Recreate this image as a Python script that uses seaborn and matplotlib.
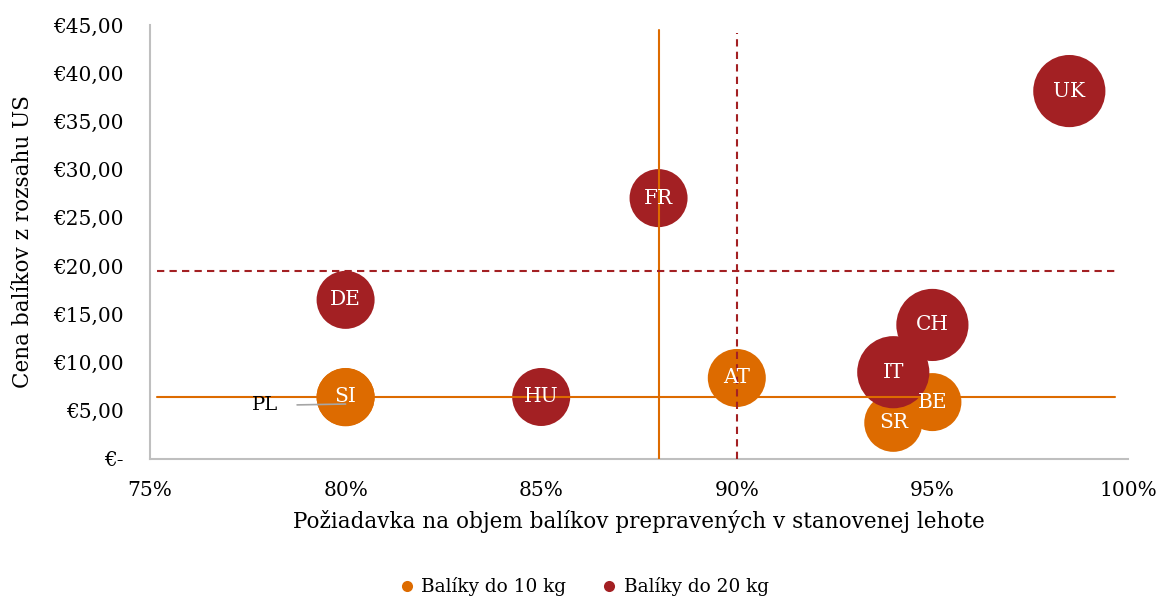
import matplotlib
matplotlib.use("Agg")
import matplotlib.pyplot as plt
from matplotlib.lines import Line2D
from matplotlib.ticker import FuncFormatter
import seaborn as sns
import pandas as pd

# ---- data ----
countries = ["PL", "SI", "AT", "BE", "SR", "DE", "HU", "FR", "IT", "CH", "UK"]
groups = ["Balíky do 10 kg"] * 5 + ["Balíky do 20 kg"] * 6
deadline_share = [0.80, 0.80, 0.90, 0.95, 0.94, 0.80, 0.85, 0.88, 0.94, 0.95, 0.985]
price_eur = [6.4, 6.43, 8.4, 5.9, 3.75, 16.5, 6.43, 27.05, 9.0, 13.9, 38.15]
bubble_size = [2, 2, 2, 2, 2, 2, 2, 2, 3, 3, 3]

ref_x_10kg = 0.88
ref_x_20kg = 0.90
ref_y_10kg = 6.43
ref_y_20kg = 19.5

x_ticks = [0.75, 0.80, 0.85, 0.90, 0.95, 1.00]
y_ticks = [0, 5, 10, 15, 20, 25, 30, 35, 40, 45]

series_names = ["Balíky do 10 kg", "Balíky do 20 kg"]
colors = {"Balíky do 10 kg": "#DD6B00", "Balíky do 20 kg": "#A32023"}

df = pd.DataFrame({"country": countries, "group": groups,
                   "x": deadline_share, "y": price_eur, "size": bubble_size})

# ---- styling ----
sns.set_theme(style="white")
plt.rcParams["font.family"] = ["DejaVu Serif"]
plt.rcParams["text.color"] = "black"
plt.rcParams["axes.labelcolor"] = "black"

fig = plt.figure(figsize=(11.57, 5.99), dpi=100)
ax = fig.add_axes([150 / 1157, 1 - 459 / 599, (1128 - 150) / 1157, (459 - 25) / 599])

sns.scatterplot(data=df, x="x", y="y", hue="group", palette=colors,
                size="size", sizes=(1745, 2700), size_norm=(2, 3),
                linewidth=0, alpha=1, legend=False, ax=ax, zorder=2)

# reference lines
ax.plot([0.7518, 0.9967], [ref_y_10kg, ref_y_10kg], color=colors[series_names[0]], lw=1.5, zorder=3)
ax.plot([ref_x_10kg, ref_x_10kg], [0, 44.5], color=colors[series_names[0]], lw=1.5, zorder=3)
ax.plot([0.7518, 0.9967], [ref_y_20kg, ref_y_20kg], color=colors[series_names[1]], lw=1.5,
        dashes=(3.5, 2.5), zorder=3)
ax.plot([ref_x_20kg, ref_x_20kg], [0, 44.2], color=colors[series_names[1]], lw=1.5,
        dashes=(3.5, 2.5), zorder=3)

# bubble labels
for c, xv, yv in zip(countries, deadline_share, price_eur):
    if c == "PL":
        ax.annotate(c, xy=(xv, yv - 0.7), xytext=(0.7795, yv - 0.85), textcoords="data",
                    ha="center", va="center", fontsize=14, color="black", zorder=5,
                    arrowprops=dict(arrowstyle="-", color="#A6A6A6", lw=1.2,
                                    shrinkA=11, shrinkB=0))
        continue
    ax.text(xv, yv, c, ha="center", va="center", fontsize=14.5, color="white", zorder=5)

ax.set_xlim(0.75, 1.00)
ax.set_ylim(0, 45)
ax.set_xticks(x_ticks)
ax.set_yticks(y_ticks)
ax.xaxis.set_major_formatter(FuncFormatter(lambda v, p: f"{round(v * 100)}%"))
ax.yaxis.set_major_formatter(FuncFormatter(
    lambda v, p: "€-" if v == 0 else "€" + f"{v:.2f}".replace(".", ",")))
ax.tick_params(axis="both", labelsize=14.5, colors="black", length=0)
ax.tick_params(axis="y", pad=19)
ax.tick_params(axis="x", pad=16)

for side in ["top", "right"]:
    ax.spines[side].set_visible(False)
for side in ["left", "bottom"]:
    ax.spines[side].set_color("#BFBFBF")
    ax.spines[side].set_linewidth(1.5)

ax.set_xlabel("Požiadavka na objem balíkov prepravených v stanovenej lehote", fontsize=15.5, labelpad=7)
ax.set_ylabel("Cena balíkov z rozsahu US", fontsize=15.5, labelpad=14)

handles = [Line2D([0], [0], marker="o", linestyle="", markersize=8,
                  markerfacecolor=colors[n], markeredgewidth=0, label=n) for n in series_names]
fig.legend(handles=handles, loc="center", bbox_to_anchor=(0.5, 1 - 587 / 599), ncol=2,
           frameon=False, fontsize=13.3, handletextpad=-0.2, columnspacing=1.3)

fig.savefig("out.png", dpi=100)
